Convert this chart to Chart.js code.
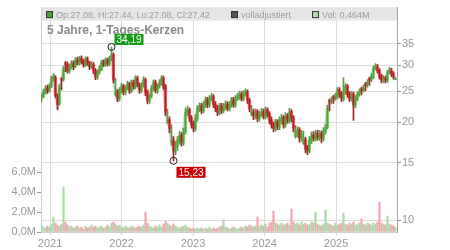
<!DOCTYPE html>
<html>
<head>
<meta charset="utf-8">
<script src="https://cdn.jsdelivr.net/npm/chart.js@4/dist/chart.umd.min.js"></script>
<style>
  html,body{margin:0;padding:0;background:#fff;}
  #wrap{width:450px;height:250px;}
</style>
</head>
<body>
<div id="wrap"><canvas id="kurs" width="450" height="250"></canvas></div>
<script>
// candles, one every ~10 days, Nov 2020 .. Nov 2025
const firstCandle = 2020.881;
const candleStep = 0.02797;

const opens = [
  23.6,24.1,24.7,25.6,25.1,25.9,27.2,27.5,24.0,22.9,
  27.3,27.1,30.5,30.3,28.8,29.6,30.5,29.8,31.2,30.5,
  31.6,30.9,30.0,31.4,30.5,29.8,30.3,29.0,27.6,28.6,
  29.2,30.7,30.1,31.2,30.3,31.4,32.4,24.4,24.9,23.6,
  25.0,25.9,24.7,25.6,26.3,25.0,26.6,25.7,27.4,26.1,
  25.0,26.1,27.1,24.9,23.3,24.1,25.4,26.6,25.0,25.9,
  26.4,27.4,25.9,20.0,20.4,17.3,17.7,16.3,16.8,17.5,
  18.3,17.3,18.7,21.4,21.9,20.7,19.8,19.1,20.5,22.0,
  22.5,21.7,22.6,23.5,22.6,23.6,24.1,22.8,22.2,21.4,
  22.5,21.7,22.3,22.8,22.0,22.6,23.5,22.6,23.8,23.9,
  24.5,23.6,24.5,24.9,23.5,21.2,21.6,20.8,21.6,20.5,
  21.1,21.6,20.8,21.9,21.3,20.4,19.8,19.1,20.1,19.3,
  20.2,20.7,19.6,21.0,20.2,21.6,20.7,18.1,18.3,19.0,
  17.8,17.3,17.7,16.7,16.3,17.5,18.3,17.8,18.5,17.9,
  18.5,17.8,18.7,19.3,23.5,23.2,24.0,23.8,23.9,25.2,
  24.5,23.6,24.7,25.9,24.5,23.6,24.5,22.6,23.6,24.5,
  25.4,25.2,26.3,26.1,27.3,27.1,27.6,29.4,29.8,29.0,
  27.8,26.9,27.4,26.9,28.6,29.0,28.3,27.08
];
const highs = [
  24.5,25.3,26.0,26.1,26.3,27.8,28.3,27.9,24.5,26.2,
  27.5,29.8,30.9,30.7,30.3,31.0,31.0,31.7,31.8,32.0,
  32.1,31.3,31.8,31.9,30.9,30.8,30.6,29.3,29.0,29.9,
  31.1,31.2,31.6,31.6,32.0,34.19,32.8,27.4,25.3,25.6,
  26.4,26.2,26.0,26.8,26.6,27.0,27.0,27.8,27.8,26.5,
  26.5,27.6,27.4,25.2,24.5,26.0,27.0,27.0,26.3,27.1,
  27.9,27.8,26.2,22.0,20.8,19.7,18.1,17.5,18.1,18.8,
  18.6,19.2,22.2,22.5,22.2,21.0,20.2,21.1,22.6,23.0,
  22.9,23.2,24.0,23.9,24.2,24.6,24.4,23.2,22.6,22.9,
  22.9,22.9,23.3,23.2,23.2,23.9,23.9,24.2,24.6,25.0,
  24.9,25.1,25.4,25.2,23.8,22.6,22.0,22.0,21.9,21.7,
  22.1,22.0,22.3,22.2,21.6,20.8,20.1,20.5,20.4,20.8,
  21.2,21.0,21.4,21.3,22.1,21.9,21.0,19.6,19.4,19.3,
  18.9,18.8,18.0,17.0,18.1,18.7,18.7,18.9,18.9,18.9,
  18.8,19.3,19.7,22.6,23.6,24.0,24.3,24.6,25.6,25.6,
  24.9,27.5,26.3,26.2,24.9,24.9,24.8,24.2,24.9,25.4,
  25.7,26.1,26.6,27.1,27.6,28.3,29.9,30.4,30.2,29.3,
  28.2,27.9,27.8,29.0,29.6,29.4,28.7,27.44
];
const lows = [
  23.1,23.8,24.4,24.6,24.8,25.6,26.8,23.8,21.9,22.6,
  25.2,26.8,28.7,28.4,28.4,29.2,29.1,29.5,30.1,30.1,
  30.3,29.6,29.7,30.0,29.1,29.3,28.3,27.1,27.2,28.2,
  28.9,29.7,29.8,29.9,30.0,31.0,26.5,24.1,23.2,23.3,
  24.6,24.3,24.3,25.2,24.6,24.7,25.3,25.4,25.8,24.6,
  24.7,25.7,24.2,22.8,22.9,23.8,25.0,24.7,24.6,25.5,
  26.0,25.3,21.0,19.8,18.6,17.0,15.23,15.9,16.4,17.1,
  16.9,17.0,18.4,21.0,20.1,19.2,18.7,18.8,20.2,21.6,
  21.3,21.4,22.2,22.2,22.3,23.3,22.2,21.6,21.0,21.1,
  21.3,21.4,21.9,21.7,21.7,22.3,22.3,22.3,23.4,23.5,
  23.3,23.3,24.1,22.9,21.6,21.0,20.4,20.5,20.1,20.2,
  20.8,20.5,20.5,20.8,19.8,19.2,18.7,18.8,19.0,19.0,
  19.8,19.2,19.3,19.9,19.9,20.1,18.7,17.9,18.0,17.4,
  17.5,17.1,16.1,15.9,16.1,17.2,17.5,17.5,17.6,17.6,
  17.3,17.5,18.4,19.1,21.7,22.8,22.9,23.4,23.6,23.9,
  23.2,23.3,24.4,23.9,23.2,23.3,20.3,22.2,23.3,24.1,
  24.3,24.8,25.0,25.7,26.0,26.7,27.3,29.0,28.4,27.2,
  26.5,26.5,26.5,26.6,28.2,27.7,27.2,27.08
];
const closes = [
  24.0,24.8,25.5,25.0,25.8,27.3,27.7,24.2,22.7,25.8,
  27.0,29.3,30.2,28.9,29.7,30.4,29.7,31.1,30.6,31.5,
  30.8,30.2,31.3,30.6,29.7,30.2,28.9,27.7,28.5,29.3,
  30.6,30.2,31.1,30.4,31.5,32.2,27.0,24.8,23.7,25.1,
  25.8,24.8,25.5,26.2,25.1,26.5,25.8,27.3,26.2,25.1,
  26.0,27.0,24.8,23.4,24.0,25.5,26.5,25.1,25.8,26.5,
  27.3,25.8,21.5,20.3,19.2,17.6,16.4,16.9,17.6,18.2,
  17.4,18.6,21.5,21.8,20.6,19.7,19.2,20.6,22.1,22.4,
  21.8,22.7,23.4,22.7,23.7,24.0,22.7,22.1,21.5,22.4,
  21.8,22.4,22.7,22.1,22.7,23.4,22.7,23.7,24.0,24.4,
  23.7,24.6,24.8,23.4,22.1,21.5,20.9,21.5,20.6,21.2,
  21.5,20.9,21.8,21.2,20.3,19.7,19.2,20.0,19.4,20.3,
  20.6,19.7,20.9,20.3,21.5,20.6,19.2,18.4,18.9,17.9,
  18.4,17.6,16.6,16.4,17.6,18.2,17.9,18.4,18.0,18.4,
  17.9,18.8,19.2,22.1,23.1,23.4,23.7,24.0,25.1,24.4,
  23.7,24.8,25.8,24.4,23.7,24.4,22.7,23.7,24.4,24.8,
  25.1,25.5,26.0,26.5,27.0,27.7,29.3,29.7,28.9,27.7,
  27.0,27.3,27.0,28.5,28.9,28.2,27.7,27.42
];
// volume in millions
const volumes = [
  0.7,0.5,0.4,0.6,0.5,0.8,1.5,0.9,0.7,0.6,
  0.8,4.5,1.0,0.7,0.5,0.6,0.4,0.5,0.6,0.4,
  0.5,0.3,0.6,0.4,0.5,0.7,0.5,0.6,0.4,0.5,
  0.6,0.4,0.5,0.7,0.5,0.9,1.0,0.8,0.6,0.7,
  0.5,0.4,0.6,0.5,0.4,0.6,0.5,0.4,0.5,0.6,
  0.5,0.7,2.0,0.9,0.6,0.5,0.4,0.6,0.5,0.7,
  0.5,0.8,1.1,0.9,0.7,0.6,0.8,0.6,0.5,0.4,
  0.5,0.6,0.7,0.5,0.4,0.3,0.4,0.3,0.4,0.3,
  0.4,0.3,0.4,0.3,0.5,0.3,0.4,0.3,0.4,0.5,
  0.6,1.2,0.5,0.4,0.3,0.4,0.5,0.4,0.3,0.4,
  0.5,0.4,0.6,0.5,0.7,0.6,0.5,0.6,1.5,0.6,
  0.7,0.6,0.8,0.5,0.9,1.0,2.1,0.9,0.8,0.7,
  0.9,0.7,0.8,0.9,0.7,2.3,1.0,0.8,0.9,0.7,
  1.0,0.8,0.9,0.7,0.8,1.0,0.9,2.0,0.8,0.7,
  0.6,0.8,2.2,0.9,0.8,0.7,0.6,0.9,0.7,0.8,
  0.9,1.9,0.8,0.7,0.9,0.8,1.0,0.7,0.8,0.9,
  1.3,0.8,0.7,0.9,0.8,0.7,0.9,0.8,1.0,3.0,
  0.9,0.8,0.7,1.6,0.8,0.7,0.6,0.464
];

const yearTicks = [2021, 2022, 2023, 2024, 2025];
const priceTicks = [10, 15, 20, 25, 30, 35];
const volTicks = [0, 2, 4, 6];
const title = "5 Jahre, 1-Tages-Kerzen";

const UP = "#4aa832", DOWN = "#c8141e";
const VUP = "#a8dba2", VDOWN = "#f2a5ad";
const FONT = "'Liberation Sans', Arial, sans-serif";

const xs = opens.map((o, i) => firstCandle + i * candleStep);
const isUp = opens.map((o, i) => closes[i] >= o);
const last = opens.length - 1;

function fmt(v){ return v.toFixed(2).replace(".", ","); }

// header band, frame and the high/low markers
const deco = {
  id: "deco",
  beforeDatasetsDraw(chart){
    const a = chart.chartArea, c = chart.ctx;
    c.save();
    c.strokeStyle = "#cfcfcf";
    c.lineWidth = 1;
    c.beginPath();
    c.moveTo(a.left, a.top + 0.5); c.lineTo(a.right, a.top + 0.5);
    c.stroke();
    c.restore();
  },
  afterDraw(chart){
    const a = chart.chartArea, c = chart.ctx;
    const sx = chart.scales.x, sy = chart.scales.y;
    c.save();
    // header
    c.fillStyle = "#e6e6e6";
    c.fillRect(a.left + 1, a.top + 1, a.right - a.left - 1, 12);
    c.font = "9px " + FONT;
    c.textBaseline = "middle";
    const hy = a.top + 7;
    const items = [
      [46, UP, "Op:" + opens[last].toFixed(2) + ", Hi:" + highs[last].toFixed(2) + ", Lo:" + lows[last].toFixed(2) + ", Cl:" + closes[last].toFixed(2)],
      [231, "#555", "volladjustiert"],
      [312, "#b2e0ad", "Vol: " + volumes[last].toFixed(3) + "M"]
    ];
    items.forEach(([x, col, txt]) => {
      c.fillStyle = col;
      c.fillRect(x, hy - 3.5, 7, 7);
      c.strokeStyle = "#333";
      c.lineWidth = 1;
      c.strokeRect(x + 0.5, hy - 3.5 + 0.5, 6, 6);
      c.fillStyle = "#9a9a9a";
      c.fillText(txt, x + 10, hy + 0.5);
    });
    // title
    c.font = "bold 12px " + FONT;
    c.fillStyle = "#8a8a8a";
    c.textBaseline = "alphabetic";
    c.fillText(title, 47, 34);

    // extremes
    let hi = 0, lo = 0;
    highs.forEach((v, i) => { if (v > highs[hi]) hi = i; });
    lows.forEach((v, i) => { if (v < lows[lo]) lo = i; });
    const marks = [
      [xs[hi], highs[hi], "#179a17", -13],
      [xs[lo], lows[lo], "#cc0000", 6]
    ];
    marks.forEach(([xv, yv, col, dy]) => {
      const px = sx.getPixelForValue(xv), py = sy.getPixelForValue(yv);
      c.beginPath();
      c.arc(px, py, 3.5, 0, Math.PI * 2);
      c.strokeStyle = "#222";
      c.lineWidth = 1;
      c.stroke();
      c.font = "10px " + FONT;
      const t = fmt(yv);
      const w = c.measureText(t).width + 4;
      c.fillStyle = col;
      c.fillRect(px + 3, py + dy, w, 11);
      c.fillStyle = "#fff";
      c.textBaseline = "middle";
      c.fillText(t, px + 5, py + dy + 6);
    });
    c.restore();
  }
};

new Chart(document.getElementById("kurs"), {
  type: "bar",
  data: {
    datasets: [
      {
        label: "body",
        data: xs.map((x, i) => ({ x: x, y: [opens[i], closes[i]] })),
        backgroundColor: isUp.map(u => u ? UP : DOWN),
        barThickness: 1.4,
        minBarLength: 1,
        grouped: false,
        yAxisID: "y"
      },
      {
        label: "wick",
        data: xs.map((x, i) => ({ x: x, y: [lows[i], highs[i]] })),
        backgroundColor: isUp.map(u => u ? UP : DOWN),
        barThickness: 1,
        grouped: false,
        yAxisID: "y"
      },
      {
        type: "line",
        label: "volladjustiert",
        data: xs.map((x, i) => ({ x: x, y: closes[i] })),
        borderColor: "rgba(170,170,170,0.5)",
        borderWidth: 3,
        pointRadius: 0,
        tension: 0,
        yAxisID: "y"
      },
      {
        label: "Vol",
        data: xs.map((x, i) => ({ x: x, y: volumes[i] })),
        backgroundColor: isUp.map(u => u ? VUP : VDOWN),
        barThickness: 1.5,
        grouped: false,
        yAxisID: "yv"
      }
    ]
  },
  options: {
    responsive: false,
    animation: false,
    devicePixelRatio: 1,
    layout: { padding: { top: 7, left: 0, right: 0, bottom: 0 } },
    plugins: { legend: { display: false }, tooltip: { enabled: false } },
    scales: {
      x: {
        type: "linear",
        offset: false,
        min: 2020.874,
        max: 2025.853,
        afterBuildTicks: s => { s.ticks = yearTicks.map(v => ({ value: v })); },
        afterFit: s => { s.height = 18; },
        ticks: { callback: v => String(v), color: "#999", font: { size: 11, family: FONT }, padding: 1, maxRotation: 0 },
        grid: { color: "#dcdcdc", tickLength: 4, offset: false },
        border: { color: "#cfcfcf" }
      },
      y: {
        type: "logarithmic",
        position: "right",
        min: 9.185,
        max: 45.22,
        afterBuildTicks: s => { s.ticks = priceTicks.map(v => ({ value: v })); },
        afterFit: s => { s.width = 53; },
        ticks: { callback: v => String(v), color: "#999", font: { size: 11, family: FONT }, padding: 1 },
        grid: { color: "#dcdcdc", tickLength: 4, tickColor: "#999" },
        border: { color: "#a8a8a8" }
      },
      yv: {
        type: "linear",
        position: "left",
        min: 0,
        max: 22.5,
        afterBuildTicks: s => { s.ticks = volTicks.map(v => ({ value: v })); },
        afterFit: s => { s.width = 41; },
        ticks: { callback: v => v.toFixed(1).replace(".", ",") + "M", color: "#999", font: { size: 11, family: FONT }, padding: 1 },
        grid: { drawOnChartArea: false, tickLength: 4, tickColor: "#999" },
        border: { color: "#cfcfcf" }
      }
    }
  },
  plugins: [deco]
});
</script>
</body>
</html>
